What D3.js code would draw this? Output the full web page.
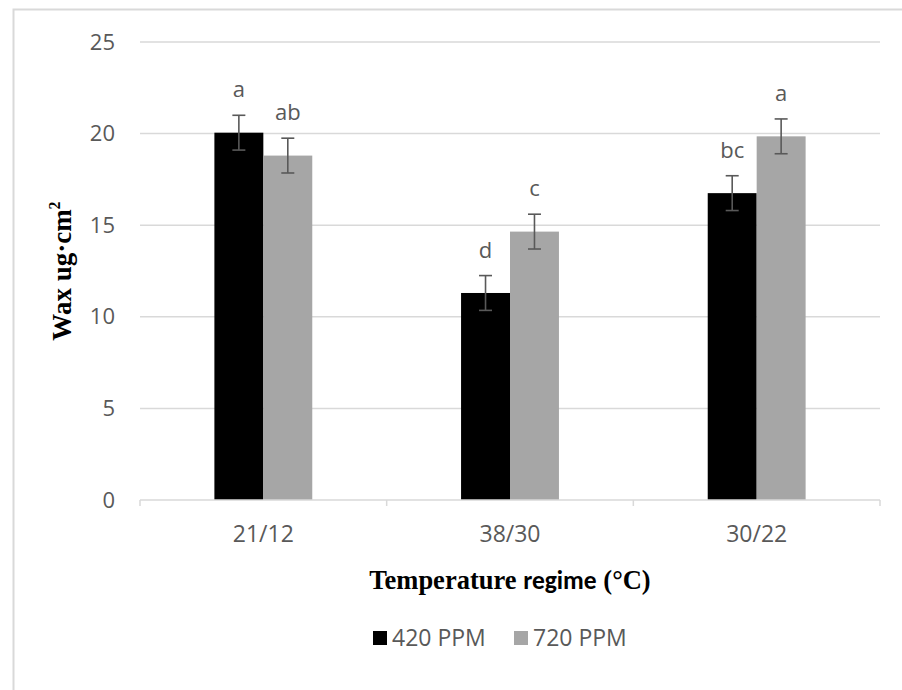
<!DOCTYPE html>
<html>
<head>
<meta charset="utf-8">
<script src="https://cdn.jsdelivr.net/npm/d3@7"></script>
<style>
  html, body { margin: 0; padding: 0; background: #fff; }
  svg { display: block; }
</style>
</head>
<body>
<div id="chart"></div>
<script>
// ---- data ----
const categories = ["21/12", "38/30", "30/22"];
const seriesNames = ["420 PPM", "720 PPM"];
const values420 = [20.05, 11.3, 16.75];
const values720 = [18.8, 14.65, 19.85];
const errors420 = [0.95, 0.95, 0.95];
const errors720 = [0.95, 0.95, 0.95];
const letters420 = ["a", "d", "bc"];
const letters720 = ["ab", "c", "a"];
const yTicks = [0, 5, 10, 15, 20, 25];

const seriesColors = ["#000000", "#a6a6a6"];
const textGray = "#595959";
const gridGray = "#d9d9d9";
const sansFont = "'Open Sans', 'Liberation Sans', sans-serif";
const narrowBold = "Carlito, Lato, 'Open Sans', sans-serif";
const serifFont = "'Liberation Serif', 'Times New Roman', serif";

const W = 902, H = 690;
const plotLeft = 140, plotRight = 880, plotTop = 42, plotBottom = 500;

const svg = d3.select("#chart").append("svg").attr("width", W).attr("height", H);
svg.append("rect").attr("width", W).attr("height", H).attr("fill", "#fff");

// outer border (chart area)
svg.append("path")
  .attr("d", `M13.5,${H} L13.5,9.5 L${W},9.5`)
  .attr("fill", "none").attr("stroke", gridGray).attr("stroke-width", 2);

const x0 = d3.scaleBand().domain(categories).range([plotLeft, plotRight]).padding(0);
const x1 = d3.scaleBand().domain(seriesNames).range([0, x0.bandwidth()]).paddingInner(0).paddingOuter(1.52);
const y = d3.scaleLinear().domain([0, 25]).range([plotBottom, plotTop]);

// gridlines
svg.append("g").selectAll("line").data(yTicks.filter(d => d > 0)).join("line")
  .attr("x1", plotLeft).attr("x2", plotRight)
  .attr("y1", d => y(d)).attr("y2", d => y(d))
  .attr("stroke", gridGray).attr("stroke-width", 1.5);

// y axis labels
const yAxis = d3.axisLeft(y).tickValues(yTicks).tickSize(0).tickPadding(0);
const gy = svg.append("g").attr("transform", `translate(${plotLeft - 25},0)`).call(yAxis);
gy.select(".domain").remove();
gy.selectAll("text").attr("fill", textGray).style("font-family", sansFont).style("font-size", "22px");

// data table
const rows = categories.map((c, i) => ({
  cat: c,
  items: [
    { s: seriesNames[0], v: values420[i], e: errors420[i], l: letters420[i], color: seriesColors[0] },
    { s: seriesNames[1], v: values720[i], e: errors720[i], l: letters720[i], color: seriesColors[1] }
  ]
}));

const groups = svg.append("g").selectAll("g").data(rows).join("g")
  .attr("transform", d => `translate(${x0(d.cat)},0)`);

groups.selectAll("rect").data(d => d.items).join("rect")
  .attr("x", d => x1(d.s)).attr("width", x1.bandwidth())
  .attr("y", d => y(d.v)).attr("height", d => y(0) - y(d.v))
  .attr("fill", d => d.color);

// error bars
const eb = groups.selectAll("g.err").data(d => d.items).join("g").attr("class", "err")
  .attr("transform", d => `translate(${x1(d.s) + x1.bandwidth() / 2},0)`);
eb.append("line").attr("x1", 0).attr("x2", 0)
  .attr("y1", d => y(d.v + d.e)).attr("y2", d => y(d.v - d.e))
  .attr("stroke", textGray).attr("stroke-width", 1.6);
eb.append("line").attr("x1", -6.5).attr("x2", 6.5)
  .attr("y1", d => y(d.v + d.e)).attr("y2", d => y(d.v + d.e))
  .attr("stroke", textGray).attr("stroke-width", 1.6);
eb.append("line").attr("x1", -6.5).attr("x2", 6.5)
  .attr("y1", d => y(d.v - d.e)).attr("y2", d => y(d.v - d.e))
  .attr("stroke", textGray).attr("stroke-width", 1.6);

// significance letters
groups.selectAll("text.sig").data(d => d.items).join("text").attr("class", "sig")
  .attr("x", d => x1(d.s) + x1.bandwidth() / 2)
  .attr("y", d => y(d.v + d.e) - 18)
  .attr("text-anchor", "middle")
  .attr("fill", textGray).style("font-family", sansFont).style("font-size", "22px")
  .text(d => d.l);

// x axis
const xAxis = d3.axisBottom(x0).tickSize(0).tickPadding(0);
const gx = svg.append("g").attr("transform", `translate(0,${plotBottom})`).call(xAxis);
gx.select(".domain").remove();
gx.selectAll("text").attr("y", 42).attr("dy", 0).attr("fill", textGray)
  .style("font-family", sansFont).style("font-size", "23px");
svg.append("line").attr("x1", plotLeft).attr("x2", plotRight).attr("y1", plotBottom).attr("y2", plotBottom)
  .attr("stroke", gridGray).attr("stroke-width", 1.5);
const bounds = categories.map(c => x0(c)).concat([x0(categories[categories.length - 1]) + x0.bandwidth()]);
svg.append("g").selectAll("line").data(bounds).join("line")
  .attr("x1", d => d).attr("x2", d => d).attr("y1", plotBottom).attr("y2", plotBottom + 6)
  .attr("stroke", gridGray).attr("stroke-width", 1.5);

// x title (mixed fonts)
const xt = svg.append("text").attr("x", 510).attr("y", 589)
  .attr("text-anchor", "middle").attr("fill", "#000").style("font-weight", "bold").style("font-size", "26.5px");
xt.append("tspan").style("font-family", serifFont).text("Temperature ");
xt.append("tspan").style("font-family", narrowBold).style("font-size", "25.5px").text("regime");
xt.append("tspan").style("font-family", serifFont).text(" (°C)");

// y title
const yt = svg.append("text").attr("transform", `translate(71,271) rotate(-90)`)
  .attr("text-anchor", "middle").attr("fill", "#000")
  .style("font-family", serifFont).style("font-weight", "bold").style("font-size", "27px");
yt.append("tspan").text("Wax ug·cm");
yt.append("tspan").attr("dy", -11).style("font-size", "16px").text("2");

// legend
const legendX = [373, 514];
const lg = svg.append("g").selectAll("g").data(seriesNames).join("g")
  .attr("transform", (d, i) => `translate(${legendX[i]},631)`);
lg.append("rect").attr("width", 14).attr("height", 14).attr("fill", (d, i) => seriesColors[i]);
lg.append("text").attr("x", 19).attr("y", 15).attr("fill", textGray)
  .style("font-family", sansFont).style("font-size", "23px").text(d => d);
</script>
</body>
</html>
